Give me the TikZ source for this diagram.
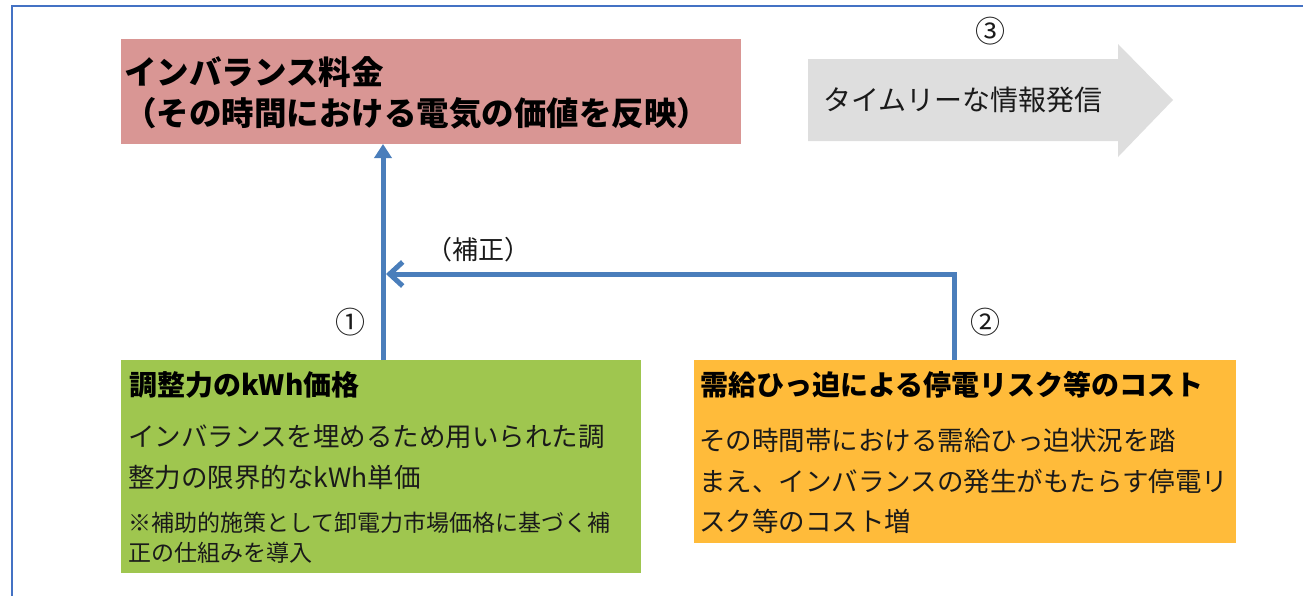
\documentclass[tikz,border=0pt]{standalone}
\usepackage{fontspec}
\setmainfont{Noto Sans CJK JP}
\usetikzlibrary{arrows.meta}
\definecolor{frameblue}{HTML}{4472C4}
\definecolor{lineblue}{HTML}{4A7EBB}
\definecolor{pinkfill}{HTML}{D99694}
\definecolor{greenfill}{HTML}{9FC64F}
\definecolor{orangefill}{HTML}{FFBB3A}
\definecolor{grayfill}{HTML}{DEDEDE}
\definecolor{bodytext}{HTML}{1A1A1A}
\begin{document}
\begin{tikzpicture}[x=1pt,y=-1pt,
  framestyle/.style={draw=frameblue, line width=1.5pt},
  boxnode/.style={draw=none, inner sep=0pt, outer sep=0pt},
  txt/.style={inner sep=0pt, anchor=west, text=black},
  body/.style={txt, text=bodytext},
  conn/.style={draw=lineblue, line width=5pt},
  fA/.style={font=\fontsize{32.5}{38}\selectfont\bfseries},
  fTitle/.style={font=\fontsize{28}{34}\selectfont\bfseries},
  fBody/.style={font=\fontsize{26.5}{32}\selectfont},
  fNote/.style={font=\fontsize{23}{28}\selectfont},
  fLab/.style={font=\fontsize{26}{32}\selectfont},
  fNum/.style={font=\fontsize{30}{34}\selectfont},
]
\useasboundingbox (0,0) rectangle (1303,595);
% frame (cropped on right and bottom)
\draw[framestyle] (12,600) -- (12,6) -- (1310,6);

% boxes
\node[boxnode, fill=pinkfill, minimum width=620pt, minimum height=105pt] (imb) at (431,91.5) {};
\node[boxnode, fill=greenfill, minimum width=520pt, minimum height=213pt] (grn) at (381,466.5) {};
\node[boxnode, fill=orangefill, minimum width=542pt, minimum height=183pt] (org) at (965,451.5) {};

% gray block arrow
\fill[grayfill] (808,59) -- (1118,59) -- (1118,44) -- (1173,100) -- (1118,157) -- (1118,141) -- (808,141) -- cycle;
\node[body, font=\fontsize{28}{34}\selectfont] (info) at (823,100) {タイムリーな情報発信};
\node[body, fNum, anchor=center] (n3) at (990,31) {③};

% pink texts
\node[txt, fA] (imbA) at (124,72) {インバランス料金};
\node[txt, fA] (imbB) at (124,113) {（その時間における電気の価値を反映）};

% green texts
\node[txt, fTitle] (grnT) at (129,385) {調整力のkWh価格};
\node[body, fBody] (grnB1) at (128,437) {インバランスを埋めるため用いられた調};
\node[body, fBody] (grnB2) at (128,477) {整力の限界的なkWh単価};
\node[body, fNote] (grnN1) at (128,523) {※補助的施策として卸電力市場価格に基づく補};
\node[body, fNote] (grnN2) at (128,553) {正の仕組みを導入};

% orange texts
\node[txt, fTitle] (orgT) at (700,385) {需給ひっ迫による停電リスク等のコスト};
\node[body, fBody] (orgB1) at (699,440) {その時間帯における需給ひっ迫状況を踏};
\node[body, fBody] (orgB2) at (699,481) {まえ、インバランスの発生がもたらす停電リ};
\node[body, fBody] (orgB3) at (699,521) {スク等のコスト増};

% connectors
\coordinate (vx) at (383,0);
\coordinate (rx) at (954,0);
\coordinate (jn) at (386,274);
\draw[conn, -{Triangle[width=17pt,length=14pt]}] (grn.north -| vx) -- (imb.south -| vx);
\draw[conn, -{Straight Barb[length=13pt,width=24pt]}] (org.north -| rx) |- (jn);

% labels
\node[body, fLab, anchor=center] (hosei) at (478,250) {（補正）};
\node[body, fNum, anchor=center] (n1) at (350,322) {①};
\node[body, fNum, anchor=center] (n2) at (985,322) {②};
\end{tikzpicture}
\end{document}
